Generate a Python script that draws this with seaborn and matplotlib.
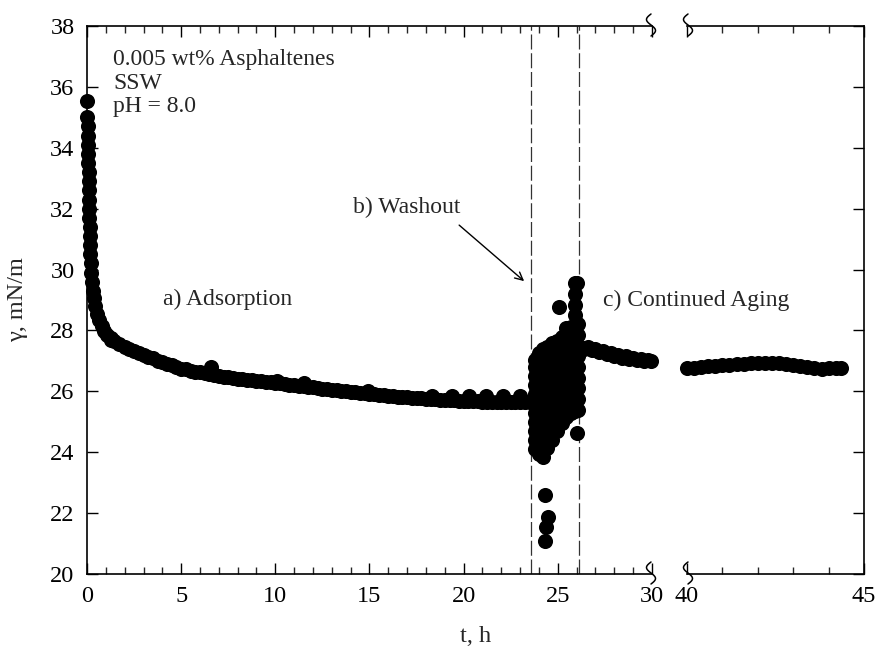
import numpy as np
import pandas as pd
import matplotlib
matplotlib.use("Agg")
import matplotlib.pyplot as plt
import seaborn as sns

# ---------------- data ----------------
# a) adsorption, early steep part
t_ads_early = [0.00, 0.02, 0.03, 0.04, 0.05, 0.06, 0.07, 0.08, 0.09, 0.10, 0.11, 0.12,
               0.13, 0.14, 0.15, 0.16, 0.18, 0.20, 0.23, 0.27, 0.32, 0.38, 0.45, 0.55,
               0.65, 0.78, 0.92, 1.08, 1.25, 1.45, 1.70, 2.00]
g_ads_early = [35.55, 35.00, 34.70, 34.40, 34.10, 33.80, 33.50, 33.20, 32.90, 32.60, 32.30, 32.00,
               31.70, 31.40, 31.10, 30.80, 30.50, 30.20, 29.90, 29.60, 29.30, 29.05, 28.80, 28.55,
               28.35, 28.15, 27.98, 27.85, 27.75, 27.65, 27.55, 27.47]
# a) adsorption, slow part (every 0.25 h)
t_ads_late = [2.25, 2.5, 2.75, 3.0, 3.25, 3.5, 3.75, 4.0, 4.25, 4.5, 4.75, 5.0,
              5.25, 5.5, 5.75, 6.0, 6.25, 6.5, 6.75, 7.0, 7.25, 7.5, 7.75, 8.0,
              8.25, 8.5, 8.75, 9.0, 9.25, 9.5, 9.75, 10.0, 10.25, 10.5, 10.75, 11.0,
              11.25, 11.5, 11.75, 12.0, 12.25, 12.5, 12.75, 13.0, 13.25, 13.5, 13.75, 14.0,
              14.25, 14.5, 14.75, 15.0, 15.25, 15.5, 15.75, 16.0, 16.25, 16.5, 16.75, 17.0,
              17.25, 17.5, 17.75, 18.0, 18.25, 18.5, 18.75, 19.0, 19.25, 19.5, 19.75, 20.0,
              20.25, 20.5, 20.75, 21.0, 21.25, 21.5, 21.75, 22.0, 22.25, 22.5, 22.75, 23.0,
              23.25, 23.5]
g_ads_late = [27.40, 27.34, 27.27, 27.20, 27.14, 27.08, 27.01, 26.95, 26.90, 26.85, 26.80, 26.75,
              26.72, 26.68, 26.65, 26.62, 26.59, 26.56, 26.53, 26.50, 26.48, 26.46, 26.44, 26.42,
              26.40, 26.38, 26.37, 26.35, 26.33, 26.31, 26.30, 26.28, 26.26, 26.24, 26.22, 26.20,
              26.18, 26.16, 26.15, 26.13, 26.11, 26.09, 26.08, 26.06, 26.04, 26.02, 26.01, 25.99,
              25.97, 25.95, 25.94, 25.92, 25.90, 25.88, 25.87, 25.85, 25.84, 25.82, 25.81, 25.80,
              25.79, 25.78, 25.77, 25.76, 25.75, 25.74, 25.73, 25.72, 25.71, 25.70, 25.69, 25.68,
              25.68, 25.67, 25.67, 25.66, 25.66, 25.66, 25.65, 25.65, 25.65, 25.65, 25.65, 25.65,
              25.65, 25.65]
# scattered points riding on the band
t_ads_extra = [1.25, 6.6, 10.1, 11.5, 14.9, 18.3, 19.4, 20.3, 21.2, 22.1, 23.0]
g_ads_extra = [27.70, 26.80, 26.34, 26.27, 26.00, 25.86, 25.85, 25.85, 25.85, 25.85, 25.85]

# b) washout
t_wash = ([23.80] * 11 + [24.00] * 12 + [24.23] * 11 + [24.45] * 10 + [24.70] * 10
          + [24.95] * 9 + [25.20] * 9 + [25.45] * 9 + [25.70] * 9 + [25.90] * 13
          + [26.05] * 9
          + [24.30, 24.48, 24.35, 24.32, 25.08, 26.00, 26.00])
g_wash = ([24.10, 24.40, 24.70, 25.00, 25.30, 25.60, 25.90, 26.20, 26.50, 26.80, 27.03]
          + [23.95, 24.25, 24.55, 24.85, 25.15, 25.45, 25.75, 26.05, 26.35, 26.65, 26.95, 27.25]
          + [23.85, 24.20, 24.55, 24.90, 25.25, 25.60, 25.95, 26.30, 26.65, 27.00, 27.40]
          + [24.15, 24.50, 24.85, 25.20, 25.55, 25.90, 26.25, 26.60, 26.95, 27.47]
          + [24.40, 24.75, 25.10, 25.45, 25.80, 26.15, 26.50, 26.85, 27.20, 27.58]
          + [24.70, 25.05, 25.40, 25.75, 26.10, 26.45, 26.80, 27.15, 27.65]
          + [24.95, 25.30, 25.65, 26.00, 26.35, 26.70, 27.05, 27.40, 27.80]
          + [25.15, 25.50, 25.85, 26.20, 26.55, 26.90, 27.25, 27.60, 28.07]
          + [25.30, 25.65, 26.00, 26.35, 26.70, 27.05, 27.40, 27.75, 28.10]
          + [25.35, 25.70, 26.05, 26.40, 26.75, 27.10, 27.45, 27.80, 28.15, 28.50, 28.85, 29.20, 29.55]
          + [25.40, 25.75, 26.10, 26.45, 26.80, 27.15, 27.50, 27.85, 28.20]
          + [22.59, 21.88, 21.55, 21.10, 28.78, 29.55, 24.64])

# c) continued aging, first part
t_age1 = [26.2, 26.4, 26.6, 26.8, 27.0, 27.2, 27.4, 27.6, 27.8, 28.0,
          28.2, 28.4, 28.6, 28.8, 29.0, 29.2, 29.4, 29.6, 29.8, 29.95]
g_age1 = [27.45, 27.40, 27.44, 27.35, 27.39, 27.28, 27.32, 27.22, 27.26, 27.16,
          27.20, 27.11, 27.15, 27.06, 27.10, 27.02, 27.06, 26.98, 27.02, 26.98]
# c) continued aging, after the break
t_age2 = [40.0, 40.2, 40.4, 40.6, 40.8, 41.0, 41.2, 41.4, 41.6, 41.8, 42.0, 42.2,
          42.4, 42.6, 42.8, 43.0, 43.2, 43.4, 43.6, 43.8, 44.0, 44.2, 44.35]
g_age2 = [26.77, 26.78, 26.80, 26.82, 26.84, 26.86, 26.88, 26.90, 26.91, 26.92, 26.93, 26.93,
          26.93, 26.92, 26.90, 26.87, 26.83, 26.79, 26.76, 26.75, 26.76, 26.77, 26.78]

washout_bounds = [23.6, 26.1]
x_ticks_left = [0, 5, 10, 15, 20, 25, 30]
x_ticks_right = [40, 45]
y_ticks = [20, 22, 24, 26, 28, 30, 32, 34, 36, 38]

df_left = pd.DataFrame({
    "t": t_ads_early + t_ads_late + t_ads_extra + t_wash + t_age1,
    "g": g_ads_early + g_ads_late + g_ads_extra + g_wash + g_age1,
})
df_right = pd.DataFrame({"t": t_age2, "g": g_age2})

# ---------------- figure ----------------
sns.set_style("ticks")
plt.rcParams["font.family"] = ["Liberation Serif", "DejaVu Serif"]

W, H = 876, 656
fig = plt.figure(figsize=(W / 100, H / 100), dpi=100)
y0, y1 = 574, 26
xl0, xl1 = 87, 652
xr0, xr1 = 687, 864
ax1 = fig.add_axes([xl0 / W, 1 - y0 / H, (xl1 - xl0) / W, (y0 - y1) / H])
ax2 = fig.add_axes([xr0 / W, 1 - y0 / H, (xr1 - xr0) / W, (y0 - y1) / H])
ax2.patch.set_alpha(0)
ax1.set_zorder(2)
ax2.set_zorder(1)

ms = 118
sns.scatterplot(data=df_left, x="t", y="g", ax=ax1, color="black", s=ms,
                linewidth=0, clip_on=False, zorder=3, legend=False)
sns.scatterplot(data=df_right, x="t", y="g", ax=ax2, color="black", s=ms,
                linewidth=0, clip_on=False, zorder=3, legend=False)

for xv in washout_bounds:
    ax1.axvline(xv, color="#333333", lw=0.9, dashes=(12, 3), zorder=2)

fs = 17.5
for ax in (ax1, ax2):
    ax.set_ylim(20, 38)
    ax.set_yticks(y_ticks)
    ax.set_xlabel("")
    ax.set_ylabel("")
    for sp in ax.spines.values():
        sp.set_linewidth(1.2)
        sp.set_color("black")
    ax.tick_params(which="major", direction="in", length=8, width=1.0,
                   labelsize=fs, pad=9, colors="black")
    ax.tick_params(which="minor", direction="in", length=5, width=1.0)

ax1.set_xlim(0, 30)
ax1.set_xticks(x_ticks_left)
ax1.set_xticks(np.arange(0, 31, 1), minor=True)
ax1.spines["right"].set_visible(False)
ax1.tick_params(which="both", top=True, bottom=True, left=True, right=False)
ax1.tick_params(axis="y", which="minor", left=False)

ax2.set_xlim(40, 45)
ax2.set_xticks(x_ticks_right)
ax2.set_xticks(np.arange(40, 46, 1), minor=True)
ax2.spines["left"].set_visible(False)
ax2.tick_params(which="both", top=True, bottom=True, left=False, right=True,
                labelleft=False)
ax2.tick_params(axis="y", which="minor", right=False)

# break marks
def squiggle(xpix, ypix, flip):
    s = np.linspace(0, 1, 40)
    yy = ypix - 12 + 22 * s
    xx = xpix + flip * 4.5 * np.sin(2 * np.pi * s)
    fig.add_artist(plt.Line2D(xx / W, 1 - yy / H, color="black", lw=1.1,
                              transform=fig.transFigure, zorder=5))

for yp in (y0, y1):
    squiggle(xl1 - 1, yp, -1)
    squiggle(xr0 + 1, yp, -1)

# labels
fig.text(476 / W, 1 - 637 / H, "t, h", ha="center", va="center", fontsize=fs)
fig.text(18 / W, 1 - 300 / H, "γ, mN/m", ha="center", va="center",
         rotation=90, fontsize=fs)

tfs = 17
ax1.text(1.38, 36.72, "0.005 wt% Asphaltenes", fontsize=tfs, ha="left", va="baseline")
ax1.text(1.38, 35.93, "SSW", fontsize=tfs, ha="left", va="baseline")
ax1.text(1.38, 35.17, "pH = 8.0", fontsize=tfs, ha="left", va="baseline")
ax1.text(4.04, 28.83, "a) Adsorption", fontsize=tfs, ha="left", va="baseline")
ax1.text(14.13, 31.86, "b) Washout", fontsize=tfs, ha="left", va="baseline")
ax1.text(27.4, 28.8, "c) Continued Aging", fontsize=tfs, ha="left", va="baseline")
ax1.annotate("", xy=(23.21, 29.62), xytext=(19.76, 31.46),
             arrowprops=dict(arrowstyle="->", color="black", lw=1.0,
                             mutation_scale=14, shrinkA=0, shrinkB=0))

fig.savefig("out.png", dpi=100)
